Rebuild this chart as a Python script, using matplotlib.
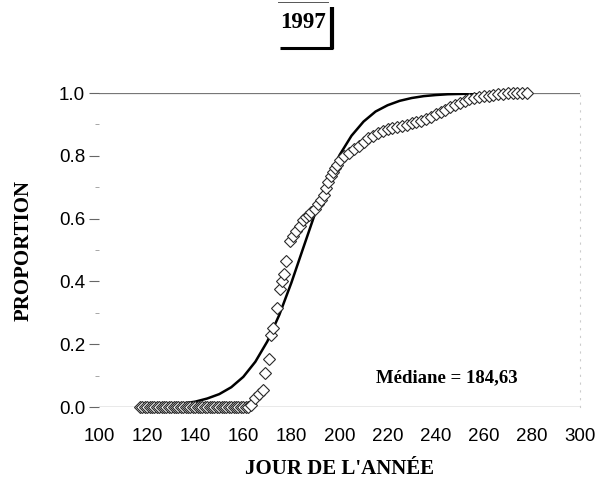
import matplotlib
matplotlib.use("Agg")
import matplotlib.pyplot as plt
from matplotlib.lines import Line2D
from matplotlib.ticker import MultipleLocator

# Observed cumulative proportion (diamonds), day of year
obs_days = [117, 118, 119, 120, 121, 122, 123, 124, 125, 126, 127, 128, 129, 130,
            131, 132, 133, 134, 135, 136, 137, 138, 139, 140, 141, 142, 143, 144,
            145, 146, 147, 148, 149, 150, 151, 152, 153, 154, 155, 156, 157, 158,
            159, 160, 161, 162,
            163.2, 164.9, 166.7, 168.1, 169.0, 170.8, 171.5, 172.5, 173.9, 175.2,
            176.0, 176.9, 177.8, 179.6, 180.6, 182.0, 183.4, 184.8, 186.2, 187.3,
            188.3, 189.7, 191.1, 192.5, 193.6, 194.5, 195.3, 196.5, 197.2, 198.0,
            199.0, 200.1,
            202, 204, 206, 208, 210, 212, 214, 216, 218, 220, 222, 224, 226, 228,
            230, 232, 234, 236, 238, 240, 242, 244, 246, 248, 250, 252, 254, 256,
            258, 260, 262, 264, 266, 268, 270, 272, 274, 276, 278]
obs_prop = [0.0] * 46 + [
    0.006, 0.028, 0.042, 0.054, 0.108, 0.153, 0.228, 0.252, 0.316, 0.375,
    0.400, 0.423, 0.466, 0.530, 0.546, 0.562, 0.578, 0.594, 0.605, 0.612,
    0.620, 0.630, 0.647, 0.658, 0.675, 0.698, 0.717, 0.736, 0.750, 0.760,
    0.772, 0.786,
    0.800, 0.810, 0.822, 0.830, 0.845, 0.856, 0.864, 0.872, 0.878, 0.884,
    0.888, 0.892, 0.895, 0.899, 0.903, 0.907, 0.912, 0.918, 0.925, 0.932,
    0.939, 0.947, 0.955, 0.962, 0.969, 0.975, 0.981, 0.985, 0.988, 0.990,
    0.992, 0.995, 0.997, 0.998, 0.999, 1.000, 1.000, 1.000, 1.000]

# Fitted curve (median 184.63)
fit_days = [120, 125, 130, 135, 140, 145, 150, 155, 160, 165, 170, 175, 180,
            184.63, 190, 195, 200, 205, 210, 215, 220, 225, 230, 235, 240, 245,
            250, 255, 260, 265, 270, 275, 280]
fit_prop = [0.003, 0.004, 0.007, 0.011, 0.017, 0.027, 0.041, 0.063, 0.096,
            0.144, 0.209, 0.294, 0.396, 0.500, 0.620, 0.720, 0.802, 0.864,
            0.909, 0.941, 0.961, 0.975, 0.984, 0.990, 0.9935, 0.996, 0.997,
            0.998, 0.999, 0.999, 1.000, 1.000, 1.000]

median_value = 184.63
x_ticks = [100, 120, 140, 160, 180, 200, 220, 240, 260, 280, 300]
y_ticks = [0.0, 0.2, 0.4, 0.6, 0.8, 1.0]

W, H = 599, 486
fig = plt.figure(figsize=(W / 100, H / 100), dpi=100)
ax = fig.add_axes([99 / W, 1 - 407 / H, (580 - 99) / W, (407 - 93) / H])

ax.set_xlim(100, 300)
ax.set_ylim(0, 1)

ax.axhline(0, color="#555555", lw=0.9, zorder=1)
ax.axhline(1, color="#777777", lw=0.9, zorder=1)

ax.plot(fit_days, fit_prop, color="black", lw=1.8, zorder=2,
        solid_capstyle="round")
ax.plot(obs_days, obs_prop, linestyle="none", marker="D", ms=6.0,
        mfc="white", mec="#2a2a2a", mew=0.8, zorder=3, clip_on=False)

for side in ("left", "top", "bottom"):
    ax.spines[side].set_visible(False)
ax.spines["right"].set_color("#cccccc")
ax.spines["right"].set_linestyle((0, (1, 6)))
ax.spines["right"].set_linewidth(0.8)

ax.set_xticks(x_ticks)
ax.set_xticklabels([str(t) for t in x_ticks])
ax.set_yticks(y_ticks)
ax.set_yticklabels([f"{t:.1f}" for t in y_ticks])
ax.yaxis.set_minor_locator(MultipleLocator(0.1))
ax.tick_params(axis="x", length=0, pad=15, labelsize=13.5)
ax.tick_params(axis="y", which="major", length=7, width=0.8, color="#666666",
               pad=3, labelsize=13.5)
ax.tick_params(axis="y", which="minor", length=3, width=0.6, color="#999999")
for lbl in ax.get_xticklabels() + ax.get_yticklabels():
    lbl.set_family("Liberation Sans")

ax.set_xlabel("JOUR DE L'ANNÉE", family="Liberation Serif", weight="bold",
              fontsize=15, labelpad=10)
ax.set_ylabel("PROPORTION", family="Liberation Serif", weight="bold",
              fontsize=15, labelpad=18)

ax.text(215.0, 0.092, f"Médiane = {median_value:.2f}".replace(".", ","),
        family="Liberation Serif", weight="bold", fontsize=13.5,
        ha="left", va="center")

# Year tag with shadowed frame
def fx(px):
    return px / W

def fy(py):
    return 1 - py / H

fig.text(fx(303), fy(23), "1997", family="Liberation Serif", weight="bold",
         fontsize=16.5, ha="center", va="center")
fig.add_artist(Line2D([fx(278), fx(328)], [fy(2), fy(2)],
                      transform=fig.transFigure, color="#555555", lw=0.7))
fig.add_artist(Line2D([fx(331.5), fx(331.5)], [fy(7), fy(49)],
                      transform=fig.transFigure, color="black", lw=3.0,
                      solid_capstyle="butt"))
fig.add_artist(Line2D([fx(280), fx(333)], [fy(48.5), fy(48.5)],
                      transform=fig.transFigure, color="black", lw=2.2,
                      solid_capstyle="butt"))

fig.savefig("out.png", dpi=100)
